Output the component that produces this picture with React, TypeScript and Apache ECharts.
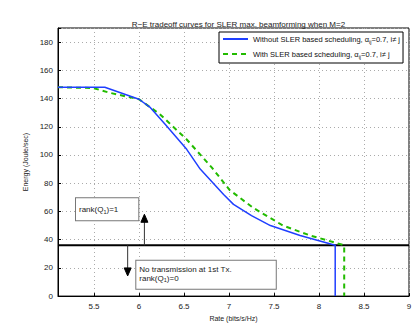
import React, { useEffect, useRef } from "react";
import * as echarts from "echarts";

const TITLE = "R\u2212E tradeoff curves for SLER max. beamforming when M=2";
const X_NAME = "Rate (bits/s/Hz)";
const Y_NAME = "Energy (Joule/sec)";
const X_TICKS = [5.5, 6, 6.5, 7, 7.5, 8, 8.5, 9];
const SERIES_NAMES = ["Without SLER", "With SLER"];
const LEGEND_LABELS = [
  "Without SLER based scheduling, \u03b1{s|ij}=0.7, i\u2260 j",
  "With SLER based scheduling, \u03b1{s|ij}=0.7, i\u2260 j",
];
const withoutSler: [number, number][] = [
  [5.1, 148], [5.62, 148], [6.0, 139.5], [6.12, 134], [6.3, 121], [6.53, 104],
  [6.68, 90], [6.81, 81], [6.94, 72], [7.05, 65], [7.25, 57], [7.46, 50],
  [7.79, 43], [8.18, 36], [8.18, 0],
];
const withSler: [number, number][] = [
  [5.1, 148], [5.49, 147.5], [5.68, 144], [6.0, 139.5], [6.23, 129], [6.53, 111],
  [6.81, 91], [7.01, 75], [7.27, 62.5], [7.6, 50], [7.9, 43], [8.28, 36], [8.28, 0],
];
const THRESHOLD = 36;
const X_MIN = 5.1;
const X_MAX = 9;

const FONT = "'Liberation Sans', Arial, sans-serif";

export default function App() {
  const ref = useRef<HTMLDivElement>(null);
  useEffect(() => {
    const chart = echarts.init(ref.current!, null, { renderer: "svg" });
    chart.setOption({
      animation: false,
      backgroundColor: "#fff",
      textStyle: { fontFamily: FONT },
      title: {
        text: TITLE,
        left: 233.5,
        textAlign: "center",
        top: 15,
        textStyle: { fontSize: 8, fontWeight: "normal", color: "#222", fontFamily: FONT },
      },
      grid: {
        left: 58, right: 6, top: 28, bottom: 23,
        show: true, borderColor: "#000", borderWidth: 1,
      },
      legend: {
        left: 219, top: 32,
        orient: "vertical",
        backgroundColor: "#fff",
        borderColor: "#000", borderWidth: 1,
        padding: [3, 3, 3, 3],
        itemGap: 5,
        itemWidth: 25, itemHeight: 10,
        itemStyle: { opacity: 0 },
        data: SERIES_NAMES,
        formatter: (n: string) => LEGEND_LABELS[SERIES_NAMES.indexOf(n)],
        textStyle: {
          fontSize: 7.5, color: "#111", fontFamily: FONT,
          rich: { s: { fontSize: 5.5, verticalAlign: "bottom", padding: [6, 0, 0, 0], color: "#111" } },
        },
      },
      xAxis: {
        type: "value", min: X_MIN, max: X_MAX,
        name: X_NAME, nameLocation: "middle", nameGap: 14,
        nameTextStyle: { fontSize: 7, color: "#222" },
        axisLine: { lineStyle: { color: "#000" } },
        axisTick: { inside: true, length: 3, customValues: X_TICKS, lineStyle: { color: "#000" } },
        axisLabel: { customValues: X_TICKS, fontSize: 8, color: "#222", margin: 6 },
        splitLine: { show: true, lineStyle: { type: [1, 3], color: "#aaa" } },
      },
      yAxis: {
        type: "value", min: 0, max: 190, interval: 20,
        name: Y_NAME, nameLocation: "middle", nameGap: 16,
        nameTextStyle: { fontSize: 7, color: "#222" },
        axisLine: { lineStyle: { color: "#000" } },
        axisTick: { inside: true, length: 3, lineStyle: { color: "#000" } },
        axisLabel: { fontSize: 8, color: "#222", margin: 5, formatter: (v: number) => (v > 180 ? "" : String(v)) },
        splitLine: { show: true, lineStyle: { type: [1, 3], color: "#aaa" } },
      },
      series: [
        {
          name: "threshold", type: "line", data: [[X_MIN, THRESHOLD], [X_MAX, THRESHOLD]],
          symbol: "none", lineStyle: { color: "#000", width: 2 }, z: 1,
        },
        {
          name: SERIES_NAMES[0], type: "line", data: withoutSler, symbol: "none",
          color: "#1f3fff", lineStyle: { color: "#1f3fff", width: 1.5 }, z: 3,
        },
        {
          name: SERIES_NAMES[1], type: "line", data: withSler, symbol: "none",
          color: "#22bb00", lineStyle: { color: "#22bb00", width: 2, type: [5, 4] }, z: 2,
        },
      ],
    });

    const p = (x: number, y: number) => chart.convertToPixel({ gridIndex: 0 }, [x, y]) as number[];
    const upBase = p(6.06, THRESHOLD);
    const upTip = p(6.06, 58);
    const dnBase = p(5.874, THRESHOLD);
    const dnTip = p(5.874, 14.3);
    const box1 = p(5.3, 69.4);
    const box2 = p(5.97, 25);
    const sub = { s: { fontSize: 5.5, verticalAlign: "bottom", padding: [6, 0, 0, 0], fill: "#222" } };
    chart.setOption({
      graphic: [
        {
          type: "text", x: box1[0], y: box1[1], z: 10,
          style: {
            text: "rank(Q{s|1})=1", fontSize: 8, fill: "#222", fontFamily: FONT,
            backgroundColor: "#fff", borderColor: "#777", borderWidth: 1,
            padding: [5, 20, 5, 3], rich: sub,
          },
        },
        {
          type: "text", x: box2[0], y: box2[1], z: 10,
          style: {
            text: "No transmission at 1st Tx.\nrank(Q{s|1})=0", fontSize: 8, fill: "#222", fontFamily: FONT,
            lineHeight: 9,
            backgroundColor: "#fff", borderColor: "#777", borderWidth: 1,
            padding: [4, 44, 6, 3], rich: sub,
          },
        },
        { type: "line", shape: { x1: upBase[0], y1: upBase[1], x2: upTip[0], y2: upTip[1] + 6 }, style: { stroke: "#333", lineWidth: 1 }, z: 20 },
        { type: "polygon", shape: { points: [[upTip[0], upTip[1]], [upTip[0] - 3.5, upTip[1] + 8], [upTip[0] + 3.5, upTip[1] + 8]] }, style: { fill: "#000", stroke: "#000", lineWidth: 1 }, z: 20 },
        { type: "line", shape: { x1: dnBase[0], y1: dnBase[1], x2: dnTip[0], y2: dnTip[1] - 6 }, style: { stroke: "#333", lineWidth: 1 }, z: 20 },
        { type: "polygon", shape: { points: [[dnTip[0], dnTip[1]], [dnTip[0] - 3.5, dnTip[1] - 8], [dnTip[0] + 3.5, dnTip[1] - 8]] }, style: { fill: "#000", stroke: "#000", lineWidth: 1 }, z: 20 },
      ],
    });
    return () => chart.dispose();
  }, []);
  return (
    <div
      ref={ref}
      style={{ position: "fixed", left: 0, top: 0, width: 415, height: 327 }}
    />
  );
}
